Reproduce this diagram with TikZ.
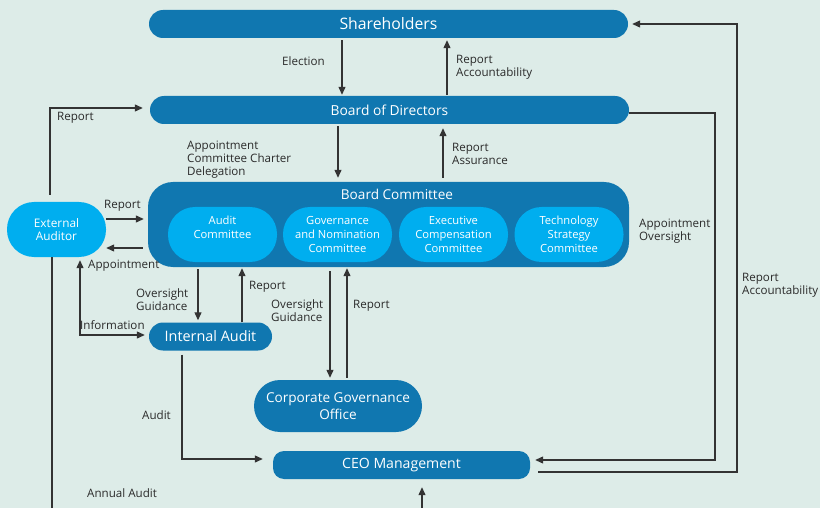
\documentclass[tikz,border=0pt]{standalone}
\usepackage{fontspec}
\setmainfont{Open Sans}
\usetikzlibrary{arrows.meta,calc}
\definecolor{bgc}{HTML}{DDECE8}
\definecolor{dblue}{HTML}{1077B0}
\definecolor{lblue}{HTML}{00AEEF}
\definecolor{lnc}{HTML}{333333}
\definecolor{txc}{HTML}{2A2A2A}
\begin{document}
\begin{tikzpicture}[x=1pt,y=-1pt,
  bigbox/.style={draw=none,fill=dblue,text=white,inner sep=0pt,minimum height=28pt,font=\fontsize{13.8}{15}\selectfont},
  oval/.style={draw=none,fill=lblue,text=white,inner sep=0pt,minimum width=109pt,minimum height=55pt,rounded corners=27pt,align=center,font=\fontsize{11.2}{13.8}\selectfont},
  lbl/.style={text=txc,inner sep=0pt,align=left,font=\fontsize{11.6}{13}\selectfont},
  arr/.style={draw=lnc,line width=1.2pt,-{Triangle[length=8pt,width=7pt]}},
  arrb/.style={draw=lnc,line width=1.2pt,{Triangle[length=8pt,width=7pt]}-{Triangle[length=8pt,width=7pt]}},
  ln/.style={draw=lnc,line width=1.2pt}]
\fill[bgc] (0,0) rectangle (820,508);
\useasboundingbox (0,0) rectangle (820,508);
% boxes
\node[bigbox,minimum width=479pt,rounded corners=14pt,font=\fontsize{15.8}{17}\selectfont] (sh) at (388.5,24) {Shareholders};
\node[bigbox,minimum width=479pt,rounded corners=14pt] (bod) at (389.5,110) {Board of Directors};
\node[draw=none,fill=dblue,inner sep=0pt,minimum width=481pt,minimum height=85pt,rounded corners=25pt] (bc) at (388.5,224.5) {};
\node[text=white,inner sep=0pt,font=\fontsize{13.6}{15}\selectfont] (bct) at (397,194.5) {Board Committee};
\node[oval] (ac) at (222.5,234.5) {Audit\\Committee\\\mbox{}};
\node[oval] (gn) at (337.5,234.5) {Governance\\and Nomination\\Committee};
\node[oval] (ec) at (453.5,234.5) {Executive\\Compensation\\Committee};
\node[oval] (ts) at (569,234.5) {Technology\\Strategy\\Committee};
\node[oval,minimum width=99pt,font=\fontsize{11.8}{13.5}\selectfont] (ea) at (56.5,229.5) {External\\Auditor};
\node[bigbox,minimum width=123pt,rounded corners=14pt,font=\fontsize{14.4}{15}\selectfont] (ia) at (210.5,336.5) {Internal Audit};
\node[bigbox,minimum width=168pt,minimum height=52pt,rounded corners=26pt,align=center,font=\fontsize{13.6}{16.5}\selectfont] (cgo) at (338,406) {Corporate Governance\\Office};
\node[bigbox,minimum width=257pt,rounded corners=11pt,font=\fontsize{14.1}{15}\selectfont] (ceo) at (401.5,465) {CEO Management};
% coordinates
\coordinate (r1) at (715,113);
\coordinate (r2) at (737,472);
\coordinate (bl) at (52,508);
\coordinate (bb) at (422,508);
% connectors
\draw[arr,shorten <=2pt,shorten >=1pt] (342,0 |- sh.south) -- (342,0 |- bod.north);
\draw[arr,shorten <=1pt,shorten >=2pt] (447,0 |- bod.north) -- (447,0 |- sh.south);
\draw[arr,shorten <=2pt,shorten >=4pt] (338,0 |- bod.south) -- (338,0 |- bc.north);
\draw[arr,shorten <=4pt,shorten >=4pt] (443,0 |- bc.north) -- (443,0 |- bod.south);
\draw[arr,shorten <=7pt,shorten >=7pt] (50,0 |- ea.north) |- ([yshift=2pt]bod.west);
\draw[arr,shorten >=4pt] (ea.east |- 0,219) -- (bc.west |- 0,219);
\draw[arr,shorten <=5pt] (bc.west |- 0,248) -- (ea.east |- 0,248);
\draw[ln] (52,0 |- ea.south) -- (bl);
\draw[arrb,shorten >=4pt] ([xshift=23.5pt,yshift=-3pt]ea.south) |- ([yshift=1.5pt]ia.west);
\draw[arr,shorten <=2pt,shorten >=2pt] (198,0 |- bc.south) -- (198,0 |- ia.north);
\draw[arr,shorten <=0pt,shorten >=1pt] (242,0 |- ia.north) -- (242,0 |- bc.south);
\draw[arr,shorten <=4pt,shorten >=2pt] (330,0 |- bc.south) -- (330,0 |- cgo.north);
\draw[arr,shorten <=2pt,shorten >=1pt] (347,0 |- cgo.north) -- (347,0 |- bc.south);
\draw[arr,shorten <=4pt,shorten >=10pt] (182,0 |- ia.south) |- ([yshift=6pt]ceo.west);
\draw[arr,shorten >=5pt] ([yshift=-3pt]bod.east) -- (r1) |- ([yshift=5pt]ceo.east);
\draw[arr,shorten <=8pt,shorten >=4pt] ([yshift=-7pt]ceo.east) -- (r2) |- (sh.east);
\draw[arr,shorten >=8pt] (bb) -- (bb |- ceo.south);
% labels
\node[lbl,anchor=east] (l1) at (325,61.5) {Election};
\node[lbl,anchor=west] (l2) at (456,67) {Report\\Accountability};
\node[lbl,anchor=west] (l3) at (187,159.5) {Appointment\\Committee Charter\\Delegation};
\node[lbl,anchor=west] (l4) at (452,154) {Report\\Assurance};
\node[lbl,anchor=west] (l5) at (57,117.5) {Report};
\node[lbl,anchor=west] (l6) at (104,205.5) {Report};
\node[lbl,anchor=west] (l7) at (88,266) {Appointment};
\node[lbl,anchor=west] (l8) at (80,325.5) {Information};
\node[lbl,anchor=west] (l9) at (136,300) {Oversight\\Guidance};
\node[lbl,anchor=west] (l10) at (249,286.5) {Report};
\node[lbl,anchor=west] (l11) at (271,310.5) {Oversight\\Guidance};
\node[lbl,anchor=west] (l12) at (353,305.5) {Report};
\node[lbl,anchor=west] (l13) at (142,415.5) {Audit};
\node[lbl,anchor=west] (l14) at (87,493.5) {Annual Audit};
\node[lbl,anchor=west] (l15) at (639,231) {Appointment\\Oversight};
\node[lbl,anchor=west] (l16) at (742,285.5) {Report\\Accountability};
\end{tikzpicture}
\end{document}
